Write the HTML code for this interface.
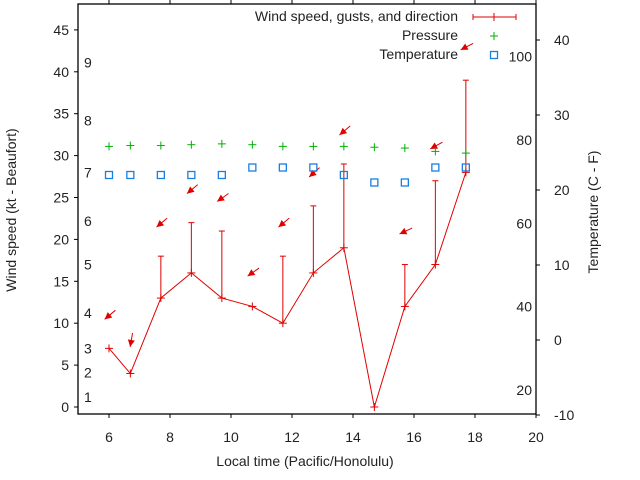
<!DOCTYPE html>
<html><head><meta charset="utf-8"><style>
body{margin:0;background:#fff}
svg{display:block;font-family:"Liberation Sans",sans-serif}
</style></head><body>
<svg id="chart" width="640" height="480" xmlns="http://www.w3.org/2000/svg"></svg>
<script>
const times=[6.0,6.7,7.7,8.7,9.7,10.7,11.7,12.7,13.7,14.7,15.7,16.7,17.7];
const wind=[7,4,13,16,13,12,10,16,19,0,12,17,28];
const gusts=[null,null,18,22,21,null,18,24,29,null,17,27,39];
const pressure=[31.1,31.2,31.2,31.3,31.4,31.3,31.1,31.1,31.1,31.0,30.9,30.5,30.3];
const tempC=[22,22,22,22,22,23,23,23,22,21,21,23,23];
const arrowY=[11,8,22,26,25,16.1,22,28,33,null,21,31.2,43];
const arrowDir=[230,190,230,230,235,235,230,228,230,null,245,241,243];
const xTicks=[6,8,10,12,14,16,18,20];
const yTicks=[0,5,10,15,20,25,30,35,40,45];
const y2Ticks=[-10,0,10,20,30,40];
const beaufortLabels=["1","2","3","4","5","6","7","8","9"];
const beaufortAt=[1.2,4.1,7,11.2,17,22.2,28,34.2,41.1];
const fLabels=["20","40","60","80","100"];
const fAt=[20,40,60,80,100];

const L=78,R=536,T=4,B=414;
const X=v=>109+(v-6)*30.5;
const Y=v=>407-v*8.38;
const Y2=c=>415-(c+10)*7.5;
const svg=document.getElementById('chart');
const NS='http://www.w3.org/2000/svg';
function mk(tag,attrs,parent){const e=document.createElementNS(NS,tag);for(const k in attrs)e.setAttribute(k,attrs[k]);(parent||svg).appendChild(e);return e;}
function txt(s,x,y,anchor,parent,extra){const t=mk('text',Object.assign({x:x,y:y,'text-anchor':anchor||'middle','font-size':14,fill:'#222'},extra||{}),parent);t.textContent=s;return t;}

const frame=mk('rect',{x:L,y:T,width:R-L,height:B-T,fill:'none',stroke:'#000','stroke-width':1.3});



const ax=mk('g',{});


xTicks.forEach(v=>{
  mk('line',{x1:X(v),x2:X(v),y1:B,y2:B+4,stroke:'#000'},ax);
  mk('line',{x1:X(v),x2:X(v),y1:T,y2:T-4,stroke:'#000'},ax);
  txt(String(v),X(v),442,'middle',ax);
});
const ay=mk('g',{});


yTicks.forEach(v=>{
  mk('line',{x1:L-4,x2:L,y1:Y(v),y2:Y(v),stroke:'#000'},ay);
  txt(String(v),L-9,Y(v)+5,'end',ay);
});
const ay2=mk('g',{});


y2Ticks.forEach(v=>{
  mk('line',{x1:R,x2:R+4,y1:Y2(v),y2:Y2(v),stroke:'#000'},ay2);
  txt(String(v),R+18,Y2(v)+5,'start',ay2);
});
const bf=mk('g',{});


beaufortLabels.forEach((s,i)=>txt(s,84,Y(beaufortAt[i])+5,'start',bf));
const fl=mk('g',{});


fLabels.forEach((s,i)=>{const c=(fAt[i]-32)*5/9;txt(s,532,Y2(c)+5,'end',fl);});

let t=txt('Local time (Pacific/Honolulu)',305,466,'middle');

t=txt('Wind speed (kt - Beaufort)',0,0,'middle',svg,{transform:'translate(16,210) rotate(-90)'});

t=txt('Temperature (C - F)',0,0,'middle',svg,{transform:'translate(598,212) rotate(-90)'});


const red='#e00000';
const wl=mk('polyline',{points:times.map((v,i)=>X(v)+','+Y(wind[i])).join(' '),fill:'none',stroke:red,'stroke-width':1});


times.forEach((v,i)=>{
  const g=mk('g',{stroke:red,'stroke-width':1});
  
  
  const x=X(v),y=Y(wind[i]);
  mk('line',{x1:x-4,x2:x+4,y1:y,y2:y},g);mk('line',{x1:x,x2:x,y1:y-4,y2:y+4},g);
  if(gusts[i]!==null){
    const gy=Y(gusts[i]);
    mk('line',{x1:x,x2:x,y1:y,y2:gy},g);mk('line',{x1:x-3,x2:x+3,y1:gy,y2:gy},g);
  }
  if(arrowY[i]!==null){
    const a=arrowDir[i]*Math.PI/180,dx=Math.sin(a),dy=-Math.cos(a);
    const cx=x+1,cy=Y(arrowY[i]);
    const tx=cx+dx*7,ty=cy+dy*7,sx=cx-dx*7,sy=cy-dy*7;
    const ar=mk('g',{});
    
    
    mk('line',{x1:sx,y1:sy,x2:tx,y2:ty,stroke:red},ar);
    const px=-dy,py=dx;
    const bx=tx-dx*7,by=ty-dy*7;
    mk('polygon',{points:`${tx},${ty} ${bx+px*3.5},${by+py*3.5} ${bx-px*3.5},${by-py*3.5}`,fill:red,stroke:'none'},ar);
  }
});
times.forEach((v,i)=>{
  const g=mk('g',{stroke:'#00b000','stroke-width':1});
  
  
  const x=X(v),y=Y(pressure[i]);
  mk('line',{x1:x-4,x2:x+4,y1:y,y2:y},g);mk('line',{x1:x,x2:x,y1:y-4,y2:y+4},g);
});
times.forEach((v,i)=>{
  const r=mk('rect',{x:X(v)-3.5,y:Y2(tempC[i])-3.5,width:7,height:7,fill:'none',stroke:'#1a7fe0','stroke-width':1.3});
  
  
});

const lg=mk('g',{});


txt('Wind speed, gusts, and direction',458,21,'end',lg);
mk('line',{x1:473,x2:516,y1:17,y2:17,stroke:red},lg);
mk('line',{x1:473,x2:473,y1:14,y2:20,stroke:red},lg);
mk('line',{x1:516,x2:516,y1:14,y2:20,stroke:red},lg);
mk('line',{x1:494,x2:494,y1:13,y2:21,stroke:red},lg);
txt('Pressure',458,40,'end',lg);
mk('line',{x1:490,x2:498,y1:36,y2:36,stroke:'#00b000'},lg);
mk('line',{x1:494,x2:494,y1:32,y2:40,stroke:'#00b000'},lg);
txt('Temperature',458,59,'end',lg);
mk('rect',{x:490.5,y:51.5,width:7,height:7,fill:'none',stroke:'#1a7fe0','stroke-width':1.3},lg);
</script>
</body></html>
